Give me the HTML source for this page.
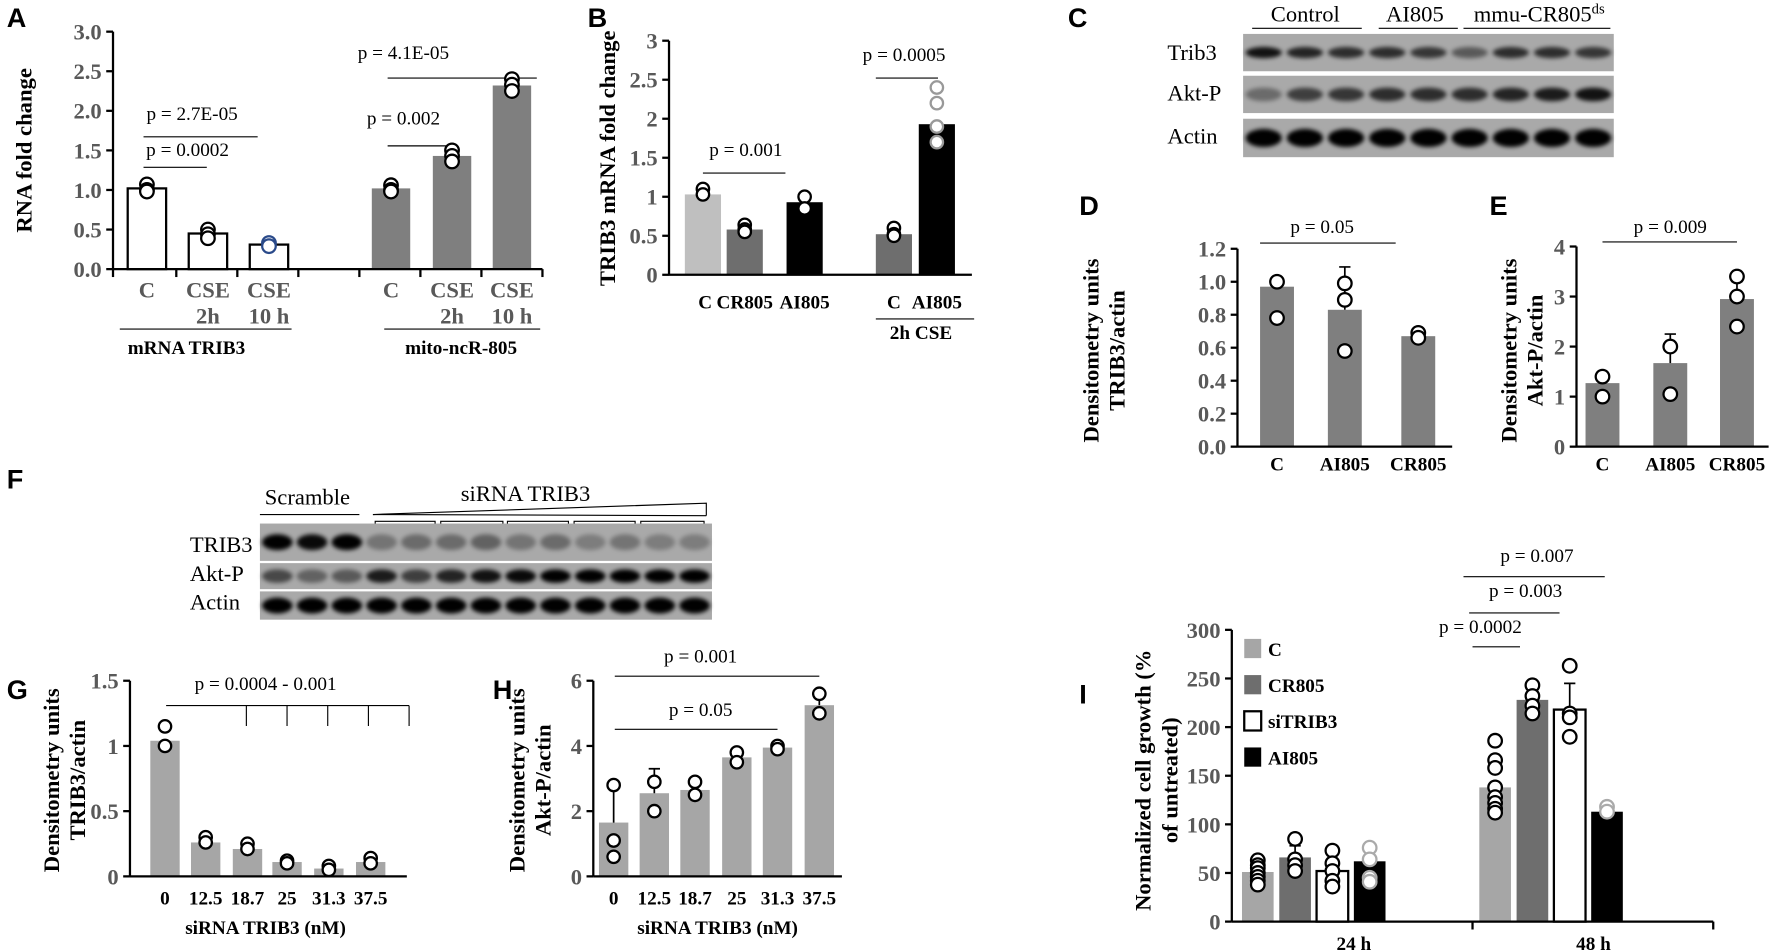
<!DOCTYPE html>
<html><head><meta charset="utf-8"><style>
html,body{margin:0;padding:0;background:#fff;}
svg{display:block;}
text{font-family:"Liberation Serif",serif;}
.pl{font-family:"Liberation Sans",sans-serif;font-weight:bold;font-size:24px;fill:#000;}
.tk{font-weight:bold;font-size:20px;fill:#595959;}
.xl{font-weight:bold;font-size:17px;fill:#000;}
.pv{font-size:17px;fill:#000;}
.yt{font-weight:bold;font-size:20px;fill:#000;}
.bl{font-size:20px;fill:#000;}
</style></head><body>
<svg id="fig" width="1772" height="951" viewBox="0 0 1568 841" preserveAspectRatio="none" xmlns="http://www.w3.org/2000/svg">
<defs><filter id="blur" x="-50%" y="-50%" width="200%" height="200%"><feGaussianBlur stdDeviation="1.8"/></filter></defs>
<g id="gA">
<text class="pl" x="6" y="24">A</text>
<text class="yt" transform="translate(28,133) rotate(-90)" text-anchor="middle">RNA  fold change</text>
<text class="pv" x="170" y="106" text-anchor="middle">p = 2.7E-05</text>
<line x1="127" y1="121" x2="228" y2="121" stroke="#000"/>
<text class="pv" x="166" y="138" text-anchor="middle">p = 0.0002</text>
<line x1="127" y1="148" x2="183" y2="148" stroke="#000"/>
<text class="pv" x="357" y="52" text-anchor="middle">p = 4.1E-05</text>
<line x1="343" y1="69" x2="475" y2="69" stroke="#000"/>
<text class="pv" x="357" y="110" text-anchor="middle">p = 0.002</text>
<line x1="343" y1="129" x2="405" y2="129" stroke="#000"/>
<line x1="106" y1="291" x2="258" y2="291" stroke="#000"/>
<text class="xl" x="165" y="313" text-anchor="middle">mRNA TRIB3</text>
<line x1="340" y1="291" x2="478" y2="291" stroke="#000"/>
<text class="xl" x="408" y="313" text-anchor="middle">mito-ncR-805</text>
</g>
<g id="gB">
<text class="pl" x="520" y="24">B</text>
<text class="yt" transform="translate(544,140) rotate(-90)" text-anchor="middle">TRIB3 mRNA fold change</text>
<text class="pv" x="660" y="138" text-anchor="middle">p = 0.001</text>
<line x1="622" y1="153" x2="695" y2="153" stroke="#000"/>
<text class="pv" x="800" y="54" text-anchor="middle">p = 0.0005</text>
<line x1="775" y1="69" x2="830" y2="69" stroke="#000"/>
<line x1="775" y1="282" x2="862" y2="282" stroke="#000"/>
<text class="xl" x="815" y="300" text-anchor="middle">2h CSE</text>
</g>
<g id="gC">
<text class="pl" x="945" y="24">C</text>
<text class="bl" x="1155" y="19" text-anchor="middle">Control</text>
<line x1="1108" y1="25" x2="1205" y2="25" stroke="#000"/>
<text class="bl" x="1252" y="19" text-anchor="middle">AI805</text>
<line x1="1220" y1="25" x2="1290" y2="25" stroke="#000"/>
<text class="bl" x="1362" y="19" text-anchor="middle">mmu-CR805<tspan font-size="13" dy="-7">ds</tspan></text>
<line x1="1295" y1="25" x2="1425" y2="25" stroke="#000"/>
<text class="bl" x="1033" y="53">Trib3</text>
<text class="bl" x="1033" y="89">Akt-P</text>
<text class="bl" x="1033" y="127">Actin</text>
</g>
<g id="gD">
<text class="pl" x="955" y="190">D</text>
<text class="yt" transform="translate(972,310) rotate(-90)" text-anchor="middle">Densitometry units</text>
<text class="yt" transform="translate(995,310) rotate(-90)" text-anchor="middle">TRIB3/actin</text>
<text class="pv" x="1170" y="206" text-anchor="middle">p = 0.05</text>
<line x1="1115" y1="215" x2="1235" y2="215" stroke="#000"/>
</g>
<g id="gE">
<text class="pl" x="1318" y="190">E</text>
<text class="yt" transform="translate(1342,310) rotate(-90)" text-anchor="middle">Densitometry units</text>
<text class="yt" transform="translate(1365,310) rotate(-90)" text-anchor="middle">Akt-P/actin</text>
<text class="pv" x="1478" y="206" text-anchor="middle">p = 0.009</text>
<line x1="1418" y1="214" x2="1537" y2="214" stroke="#000"/>
</g>
<g id="gF">
<text class="pl" x="6" y="432">F</text>
<text class="bl" x="272" y="446" text-anchor="middle">Scramble</text>
<line x1="230" y1="455" x2="318" y2="455" stroke="#000"/>
<text class="bl" x="465" y="443" text-anchor="middle">siRNA TRIB3</text>
<polyline points="330,455 625,445 625,456" fill="none" stroke="#000"/>
<line x1="330" y1="455" x2="625" y2="456" stroke="#000"/>
<text class="bl" x="168" y="488">TRIB3</text>
<text class="bl" x="168" y="514">Akt-P</text>
<text class="bl" x="168" y="539">Actin</text>
</g>
<g id="gG">
<text class="pl" x="6" y="618">G</text>
<text class="yt" transform="translate(52,690) rotate(-90)" text-anchor="middle">Densitometry units</text>
<text class="yt" transform="translate(75,690) rotate(-90)" text-anchor="middle">TRIB3/actin</text>
<text class="pv" x="235" y="610" text-anchor="middle">p = 0.0004 - 0.001</text>
<text class="xl" x="235" y="826" text-anchor="middle">siRNA  TRIB3 (nM)</text>
</g>
<g id="gH">
<text class="pl" x="436" y="618">H</text>
<text class="yt" transform="translate(464,690) rotate(-90)" text-anchor="middle">Densitometry units</text>
<text class="yt" transform="translate(487,690) rotate(-90)" text-anchor="middle">Akt-P/actin</text>
<text class="pv" x="620" y="586" text-anchor="middle">p = 0.001</text>
<line x1="544" y1="598" x2="725" y2="598" stroke="#000"/>
<text class="pv" x="620" y="633" text-anchor="middle">p = 0.05</text>
<line x1="544" y1="645" x2="688" y2="645" stroke="#000"/>
<text class="xl" x="635" y="826" text-anchor="middle">siRNA  TRIB3  (nM)</text>
</g>
<g id="gI">
<text class="pl" x="955" y="622">I</text>
<text class="yt" transform="translate(1018,690) rotate(-90)" text-anchor="middle">Normalized cell growth  (%</text>
<text class="yt" transform="translate(1042,690) rotate(-90)" text-anchor="middle">of untreated)</text>
<text class="pv" x="1360" y="497" text-anchor="middle">p = 0.007</text>
<line x1="1295" y1="510" x2="1420" y2="510" stroke="#000"/>
<text class="pv" x="1350" y="528" text-anchor="middle">p = 0.003</text>
<line x1="1300" y1="542" x2="1380" y2="542" stroke="#000"/>
<text class="pv" x="1310" y="560" text-anchor="middle">p = 0.0002</text>
<line x1="1303" y1="572" x2="1345" y2="572" stroke="#000"/>
</g>
</svg>
<script>
// ---- data ----
const A_cats=['C','CSE|2h','CSE|10 h','C','CSE|2h','CSE|10 h'];
const A_vals=[1.02,0.45,0.31,1.02,1.43,2.32];
const A_dots=[[1.07,1.0,0.98],[0.5,0.44,0.39],[0.33,0.29],[1.06,1.0,0.98],[1.5,1.43,1.36],[2.4,2.33,2.25]];
const A_ticks=[0,0.5,1,1.5,2,2.5,3];
const B_cats=['C','CR805','AI805','C','AI805'];
const B_vals=[1.03,0.58,0.93,0.52,1.93];
const B_dots=[[1.1,1.03],[0.64,0.58,0.55],[1.0,0.85],[0.6,0.52,0.5],[2.4,2.2,1.9,1.7]];
const B_ticks=[0,0.5,1,1.5,2,2.5,3];
const D_cats=['C','AI805','CR805'];
const D_vals=[0.97,0.83,0.67];
const D_errs=[0,0.26,0.03];
const D_dots=[[1.0,0.78],[0.99,0.89,0.58],[0.69,0.66]];
const D_ticks=[0,0.2,0.4,0.6,0.8,1.0,1.2];
const E_cats=['C','AI805','CR805'];
const E_vals=[1.27,1.67,2.95];
const E_errs=[0.18,0.58,0.35];
const E_dots=[[1.4,1.0],[2.0,1.05],[3.4,3.0,2.4]];
const E_ticks=[0,1,2,3,4];
const G_cats=['0','12.5','18.7','25','31.3','37.5'];
const G_vals=[1.04,0.26,0.21,0.11,0.06,0.11];
const G_dots=[[1.15,1.0],[0.3,0.26],[0.25,0.21],[0.12,0.1],[0.08,0.05],[0.14,0.1]];
const G_ticks=[0,0.5,1,1.5];
const H_cats=['0','12.5','18.7','25','31.3','37.5'];
const H_vals=[1.65,2.55,2.65,3.65,3.95,5.25];
const H_errs=[1.15,0.75,0.3,0,0.08,0.45];
const H_dots=[[2.8,1.1,0.6],[2.9,2.0],[2.9,2.5],[3.8,3.5],[4.0,3.9],[5.6,5.0]];
const H_ticks=[0,2,4,6];
const I_groups=['24 h','48 h'];
const I_series=['C','CR805','siTRIB3','AI805'];
const I_vals24=[51,66,52,62];
const I_vals48=[138,228,218,113];
const I_errs24=[0,12,0,0];
const I_errs48=[0,0,27,0];
const I_dots24=[[63,58,55,50,46,42,38],[85,64,58,52],[73,60,52,42,36],[76,64,45,41]];
const I_dots48=[[186,166,158,138,128,122,116,112],[243,232,222,214],[263,214,210,190],[118,113]];
const I_ticks=[0,50,100,150,200,250,300];
const C_trib3=[0.85,0.75,0.7,0.7,0.65,0.45,0.7,0.7,0.65];
const C_aktp=[0.35,0.6,0.65,0.7,0.7,0.7,0.75,0.8,0.85];
const C_actin=[0.95,0.95,0.95,0.95,0.95,0.95,0.95,0.95,0.95];
const F_trib3=[0.95,0.9,0.95,0.3,0.35,0.35,0.4,0.3,0.35,0.25,0.3,0.25,0.25];
const F_aktp=[0.55,0.4,0.45,0.8,0.6,0.75,0.85,0.9,0.95,0.95,0.97,0.95,1.0];
const F_actin=[1,1,1,0.95,0.95,0.95,0.95,0.95,0.95,0.95,0.95,0.95,0.95];

const NS='http://www.w3.org/2000/svg';
function mk(tag,attrs,parent){const e=document.createElementNS(NS,tag);for(const k in attrs)e.setAttribute(k,attrs[k]);parent.appendChild(e);return e;}
function lin(min,max,p0,p1){return v=>p0+(v-min)/(max-min)*(p1-p0);}

function axes(g,x0,x1,y0,y,ticks,fmt,xTicks){
  const ya=mk('line',{x1:x0,y1:y0,x2:x0,y2:y(ticks[ticks.length-1]),stroke:'#000','stroke-width':2},g);
  
  
  const xa=mk('line',{x1:x0,y1:y0,x2:x1,y2:y0,stroke:'#000','stroke-width':2},g);
  
  
  ticks.forEach(t=>{
    const tl=mk('line',{x1:x0-6,y1:y(t),x2:x0,y2:y(t),stroke:'#000','stroke-width':2},g);
    
    
    const tx=mk('text',{x:x0-10,y:y(t)+7,'text-anchor':'end','class':'tk'},g);
    tx.textContent=fmt(t);
    
    
  });
  (xTicks||[]).forEach(xt=>{
    const tl=mk('line',{x1:xt,y1:y0,x2:xt,y2:y0+7,stroke:'#000','stroke-width':2},g);
    
    
  });
}
function bar(g,cx,w,v,y,y0,fill,stroke,name){
  const r=mk('rect',{x:cx-w/2,y:y(v),width:w,height:y0-y(v),fill:fill,stroke:stroke||'none','stroke-width':stroke?2:0},g);
  
  
}
function err(g,cx,v,e,y){
  if(!e)return;
  const l=mk('path',{d:`M${cx},${y(v)}V${y(v+e)}M${cx-5},${y(v+e)}H${cx+5}`,stroke:'#000','stroke-width':1.5,fill:'none'},g);
  
  
}
function dots(g,cx,arr,y,r,col){
  arr.forEach(v=>{
    const c=mk('circle',{cx:cx,cy:y(v),r:r,fill:'#fff',stroke:col||'#000','stroke-width':2},g);
    
    
  });
}
function xlab(g,cx,yy,s,cls){
  const parts=s.split('|');
  parts.forEach((p,i)=>{
    const t=mk('text',{x:cx,y:yy+i*23,'text-anchor':'middle','class':cls||'xl'},g);
    t.textContent=p;
    
    
  });
}
function blot(g,x,y,w,h,ints,name,bh){
  const bg=mk('rect',{x:x,y:y,width:w,height:h,fill:'#a9a9a9'},g);
  
  
  const lw=w/ints.length;
  ints.forEach((v,i)=>{
    const b=mk('ellipse',{cx:x+lw*(i+0.5),cy:y+h/2,rx:lw*0.44,ry:(bh||h*0.25),fill:'#050505','fill-opacity':Math.min(1,v*1.05),filter:'url(#blur)'},g);
    
    
  });
}

// ---- Panel A ----
(function(){
  const g=document.getElementById('gA');
  const y0=238,y=lin(0,3,238,28);
  const xs=[130,184,238,346,400,453];
  A_vals.forEach((v,i)=>bar(g,xs[i],34,v,y,y0,i<3?'#fff':'#7f7f7f',i<3?'#000':null,'bar-a-'+i));
  A_dots.forEach((d,i)=>dots(g,xs[i],d,y,6,i==2?'#2a4a8a':'#000'));
  axes(g,100,480,y0,y,A_ticks,t=>t.toFixed(1),[100,156,210,264,318,372,426,480]);
  A_cats.forEach((c,i)=>xlab(g,xs[i],263,c,'tk'));
})();
// ---- Panel B ----
(function(){
  const g=document.getElementById('gB');
  const y0=243,y=lin(0,3,243,36);
  const xs=[622,659,712,791,829];
  const fills=['#bfbfbf','#6e6e6e','#000','#6e6e6e','#000'];
  B_vals.forEach((v,i)=>bar(g,xs[i],32,v,y,y0,fills[i],null,'bar-b-'+i));
  B_dots.forEach((d,i)=>dots(g,xs[i],d,y,5.5,i==4?'#999':'#000'));
  axes(g,592,860,y0,y,B_ticks,t=>String(t),[]);
  B_cats.forEach((c,i)=>xlab(g,xs[i]+(i==0?2:0),273,c));
})();
// ---- Panel C blots ----
(function(){
  const g=document.getElementById('gC');
  blot(g,1100,30,328,33,C_trib3,'blot-c-trib3',5);
  blot(g,1100,67,328,33,C_aktp,'blot-c-akt-p',6);
  blot(g,1100,105,328,34,C_actin,'blot-c-actin',8);
})();
// ---- Panel D ----
(function(){
  const g=document.getElementById('gD');
  const y0=395,y=lin(0,1.2,395,220);
  const xs=[1130,1190,1255];
  D_vals.forEach((v,i)=>bar(g,xs[i],30,v,y,y0,'#7f7f7f',null,'bar-d-'+i));
  D_vals.forEach((v,i)=>err(g,xs[i],v,D_errs[i],y));
  D_dots.forEach((d,i)=>dots(g,xs[i],d,y,6));
  axes(g,1095,1285,y0,y,D_ticks,t=>t.toFixed(1),[]);
  D_cats.forEach((c,i)=>xlab(g,xs[i],416,c));
})();
// ---- Panel E ----
(function(){
  const g=document.getElementById('gE');
  const y0=395,y=lin(0,4,395,218);
  const xs=[1418,1478,1537];
  E_vals.forEach((v,i)=>bar(g,xs[i],30,v,y,y0,'#7f7f7f',null,'bar-e-'+i));
  E_vals.forEach((v,i)=>err(g,xs[i],v,E_errs[i],y));
  E_dots.forEach((d,i)=>dots(g,xs[i],d,y,6));
  axes(g,1395,1565,y0,y,E_ticks,t=>String(t),[]);
  E_cats.forEach((c,i)=>xlab(g,xs[i],416,c));
})();
// ---- Panel F blots ----
(function(){
  const g=document.getElementById('gF');
  const br=[[332,385],[390,445],[449,503],[508,562],[567,623]];
  br.forEach(b=>{
    const p=mk('path',{d:`M${b[0]},468V461H${b[1]}V468`,fill:'none',stroke:'#000'},g);
    
    
  });
  blot(g,230,463,400,33,F_trib3,'blot-f-trib3',7);
  blot(g,230,498,400,23,F_aktp,'blot-f-akt-p',6);
  blot(g,230,523,400,25,F_actin,'blot-f-actin',7);
})();
// ---- Panel G ----
(function(){
  const g=document.getElementById('gG');
  const y0=775,y=lin(0,1.5,775,602);
  const xs=[146,182,219,254,291,328];
  G_vals.forEach((v,i)=>bar(g,xs[i],26,v,y,y0,'#a6a6a6',null,'bar-g-'+i));
  G_dots.forEach((d,i)=>dots(g,xs[i],d,y,5.5));
  axes(g,115,360,y0,y,G_ticks,t=>String(t),[]);
  G_cats.forEach((c,i)=>xlab(g,xs[i],800,c));
  const p=mk('path',{d:'M147,624H362'+[218,254,290,326,362].map(x=>`M${x},624V642`).join(''),stroke:'#000',fill:'none'},g);
  
  
})();
// ---- Panel H ----
(function(){
  const g=document.getElementById('gH');
  const y0=775,y=lin(0,6,775,602);
  const xs=[543,579,615,652,688,725];
  H_vals.forEach((v,i)=>bar(g,xs[i],26,v,y,y0,'#a6a6a6',null,'bar-h-'+i));
  H_vals.forEach((v,i)=>err(g,xs[i],v,H_errs[i],y));
  H_dots.forEach((d,i)=>dots(g,xs[i],d,y,5.5));
  axes(g,525,745,y0,y,H_ticks,t=>String(t),[]);
  H_cats.forEach((c,i)=>xlab(g,xs[i],800,c));
})();
// ---- Panel I ----
(function(){
  const g=document.getElementById('gI');
  const y0=815,y=lin(0,300,815,557);
  const fills=['#a6a6a6','#6e6e6e','#fff','#000'];
  const strokes=[null,null,'#000',null];
  const xs24=[1113,1146,1179,1212],xs48=[1323,1356,1389,1422];
  I_vals24.forEach((v,i)=>bar(g,xs24[i],28,v,y,y0,fills[i],strokes[i],'bar-24h-'+I_series[i]));
  I_vals48.forEach((v,i)=>bar(g,xs48[i],28,v,y,y0,fills[i],strokes[i],'bar-48h-'+I_series[i]));
  I_vals24.forEach((v,i)=>err(g,xs24[i],v,I_errs24[i],y));
  I_vals48.forEach((v,i)=>err(g,xs48[i],v,I_errs48[i],y));
  I_dots24.forEach((d,i)=>dots(g,xs24[i],d,y,6,i==3?'#aaa':'#000'));
  I_dots48.forEach((d,i)=>dots(g,xs48[i],d,y,6,i==3?'#aaa':'#000'));
  axes(g,1090,1516,y0,y,I_ticks,t=>String(t),[1303,1516]);
  xlab(g,1198,840,I_groups[0]);
  xlab(g,1410,840,I_groups[1]);
  I_series.forEach((s,i)=>{
    const r=mk('rect',{x:1101,y:565+i*32,width:15,height:17,fill:fills[i],stroke:strokes[i]||'none','stroke-width':2},g);
    
    
    const t=mk('text',{x:1122,y:580+i*32,'class':'xl'},g);
    t.textContent=s;
    
    
  });
})();
</script>
</body></html>
